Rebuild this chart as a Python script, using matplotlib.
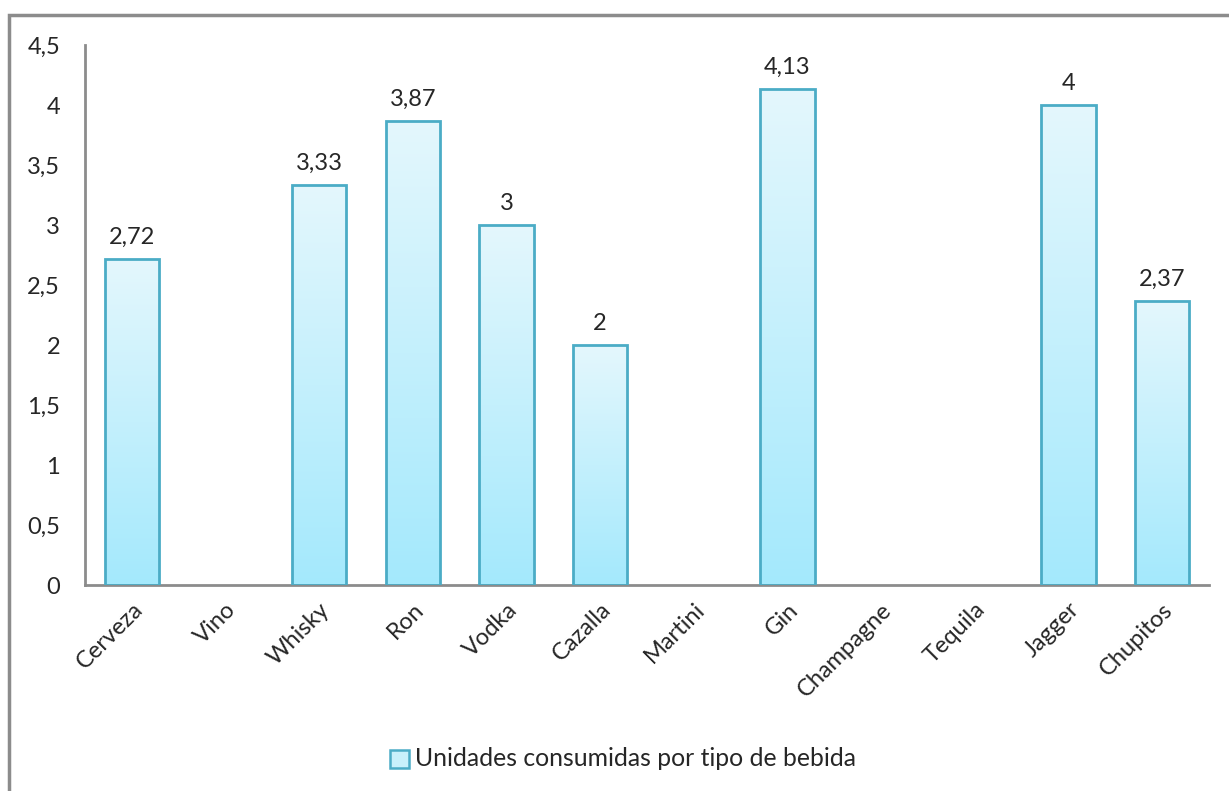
import numpy as np
import matplotlib.pyplot as plt
from matplotlib.patches import Rectangle
from matplotlib.colors import LinearSegmentedColormap

plt.rcParams['font.family'] = ['Lato', 'DejaVu Sans']

bebidas = ['Cerveza', 'Vino', 'Whisky', 'Ron', 'Vodka', 'Cazalla', 'Martini',
           'Gin', 'Champagne', 'Tequila', 'Jagger', 'Chupitos']
unidades = [2.72, 0, 3.33, 3.87, 3, 2, 0, 4.13, 0, 0, 4, 2.37]
etiquetas = ['2,72', '', '3,33', '3,87', '3', '2', '', '4,13', '', '', '4', '2,37']
yticks = [0, 0.5, 1, 1.5, 2, 2.5, 3, 3.5, 4, 4.5]
serie = 'Unidades consumidas por tipo de bebida'

borde = '#4bacc6'
gris = '#8c8c8c'
texto = '#262626'
degradado = LinearSegmentedColormap.from_list('aqua', ['#a4e9fc', '#e4f7fd'])

fig = plt.figure(figsize=(12.29, 7.91), dpi=100)
ax = fig.add_axes([85 / 1229, 1 - 585 / 791, 1124 / 1229, 540 / 791])

x = np.arange(len(bebidas))
bordes = [borde if v > 0 else 'none' for v in unidades]
barras = ax.bar(x, unidades, width=0.58, facecolor='none', edgecolor=bordes,
                linewidth=2, zorder=3)

# relleno en degradado, recortado a cada barra
grad = np.linspace(0, 1, 256).reshape(-1, 1)
for b, v in zip(barras, unidades):
    if v <= 0:
        continue
    x0 = b.get_x()
    im = ax.imshow(grad, cmap=degradado, origin='lower', aspect='auto',
                   extent=[x0, x0 + b.get_width(), 0, v], zorder=2)
    im.set_clip_path(b)

for xi, v, t in zip(x, unidades, etiquetas):
    if t:
        ax.annotate(t, (xi, v), xytext=(0, 8), textcoords='offset points',
                    ha='center', va='bottom', fontsize=17, color=texto)

ax.set_xlim(-0.5, len(bebidas) - 0.5)
ax.set_ylim(0, 4.5)
ax.set_yticks(yticks)
ax.set_yticklabels([f'{t:g}'.replace('.', ',') for t in yticks])
ax.set_xticks(x)
ax.set_xticklabels(bebidas, rotation=45, ha='right', rotation_mode='anchor')
ax.tick_params(axis='both', length=0, labelsize=17, colors=texto)
ax.tick_params(axis='y', pad=18)
ax.tick_params(axis='x', pad=10)

for s in ['top', 'right']:
    ax.spines[s].set_visible(False)
for s in ['left', 'bottom']:
    ax.spines[s].set_color(gris)
    ax.spines[s].set_linewidth(2)

# leyenda
lx, ly = 390 / 1229, 1 - 759 / 791
fig.patches.append(Rectangle((lx, ly - 9 / 791), 19 / 1229, 18 / 791,
                             transform=fig.transFigure, facecolor='#c8f0fb',
                             edgecolor=borde, linewidth=1.8))
fig.text(lx + 25 / 1229, ly, serie, ha='left', va='center', fontsize=17.8,
         color=texto)

# marco del grafico
fig.patches.append(Rectangle((9 / 1229, -0.05), 1.2, 1 - 15 / 791 + 0.05,
                             transform=fig.transFigure, facecolor='none',
                             edgecolor=gris, linewidth=2.5))

fig.savefig('out.png', dpi=100)
